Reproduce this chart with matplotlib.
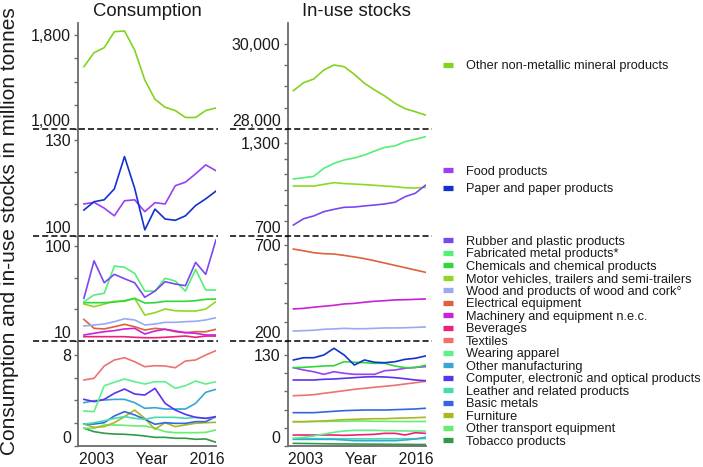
import matplotlib
matplotlib.use("Agg")
import matplotlib.pyplot as plt
from matplotlib.lines import Line2D
from matplotlib.ticker import FixedLocator

plt.rcParams['font.family'] = ['Liberation Sans', 'DejaVu Sans']

# ---------------- data ----------------
years = [2003, 2004, 2005, 2006, 2007, 2008, 2009, 2010, 2011, 2012, 2013, 2014, 2015, 2016]

sectors = ["Other non-metallic mineral products", "Food products", "Paper and paper products",
           "Rubber and plastic products", "Fabricated metal products*", "Chemicals and chemical products",
           "Motor vehicles, trailers and semi-trailers", "Wood and products of wood and cork\u00b0",
           "Electrical equipment", "Machinery and equipment n.e.c.", "Beverages", "Textiles",
           "Wearing apparel", "Other manufacturing", "Computer, electronic and optical products",
           "Leather and related products", "Basic metals", "Furniture", "Other transport equipment",
           "Tobacco products"]
colors = ["#80d41f", "#9b3ff5", "#1232cf", "#7a48ee", "#55ee77", "#2fd83a", "#8ed822", "#9aaaf0",
          "#dd6238", "#c823d8", "#ec2277", "#ee7171", "#5ef08a", "#35a8d2", "#5a33ee", "#45dcb0",
          "#3566e0", "#a9b822", "#66ee6e", "#2f9a48"]

# consumption (million tonnes)
cons_nonmetallic = [1530, 1649, 1692, 1828, 1834, 1672, 1417, 1253, 1185, 1157, 1098, 1098, 1157, 1179]
cons_food = [110.0, 110.5, 108.7, 106.3, 111.0, 111.3, 107.6, 110.4, 110.0, 115.7, 116.8, 119.4, 122.2, 120.4]
cons_paper = [108.1, 110.7, 111.3, 114.7, 124.8, 114.9, 101.9, 108.4, 105.3, 104.9, 106.3, 109.5, 111.6, 114.0]
cons_rubber = [50.4, 86.0, 65.2, 73.2, 69.0, 65.2, 51.4, 57.3, 66.2, 64.0, 62.4, 84.5, 73.2, 105.6]
cons_fabricated = [47.2, 53.6, 55.2, 81.0, 79.8, 74.1, 57.3, 57.3, 69.4, 66.8, 57.3, 77.9, 58.3, 58.3]
cons_chemicals = [46.3, 46.3, 46.3, 46.9, 48.2, 50.4, 46.0, 46.3, 47.6, 47.6, 47.6, 48.2, 49.5, 49.8]
cons_motor = [45.0, 42.5, 45.0, 47.6, 47.6, 50.4, 34.6, 36.8, 40.3, 38.7, 38.4, 38.4, 40.3, 47.2]
cons_wood = [24.2, 25.2, 26.1, 28.3, 31.1, 29.9, 25.2, 26.1, 27.7, 27.7, 28.3, 28.7, 29.9, 32.1]
cons_electrical = [30.5, 22.0, 21.4, 23.5, 25.8, 23.5, 20.4, 22.0, 21.1, 18.8, 17.9, 18.8, 18.8, 21.1]
cons_machinery = [15.7, 17.3, 18.8, 19.8, 21.4, 22.0, 16.6, 19.5, 21.1, 19.5, 17.9, 17.3, 15.7, 15.7]
cons_beverages = [14.1, 14.1, 14.1, 14.1, 14.1, 13.5, 13.1, 13.1, 13.5, 14.1, 14.7, 13.5, 14.7, 14.7]
cons_textiles = [5.80, 5.95, 7.03, 7.56, 7.76, 7.41, 6.97, 7.06, 7.03, 6.88, 7.47, 7.56, 8.00, 8.38]
cons_apparel = [3.08, 3.02, 5.30, 5.60, 5.89, 5.65, 5.45, 5.65, 5.65, 5.07, 5.30, 5.71, 5.45, 5.65]
cons_othermfg = [3.81, 3.98, 4.04, 4.10, 4.10, 3.81, 3.31, 3.37, 3.25, 3.25, 3.25, 3.75, 4.72, 4.98]
cons_computer = [4.10, 3.90, 4.10, 4.63, 5.01, 4.57, 4.48, 5.07, 3.75, 3.16, 2.78, 2.52, 2.43, 2.58]
cons_leather = [1.91, 2.05, 2.22, 2.43, 2.58, 2.43, 2.35, 2.52, 2.52, 2.52, 2.43, 2.52, 2.43, 2.52]
cons_basicmetals = [1.93, 1.93, 2.05, 2.64, 3.02, 2.73, 2.35, 1.91, 2.05, 1.99, 1.99, 2.14, 2.14, 2.58]
cons_furniture = [1.93, 1.64, 1.70, 2.05, 2.58, 3.16, 2.43, 1.47, 2.05, 1.70, 1.85, 2.00, 2.05, 2.08]
cons_othertransport = [1.56, 1.56, 1.85, 1.85, 1.82, 1.76, 1.76, 1.56, 1.26, 1.17, 1.17, 1.17, 1.20, 1.41]
cons_tobacco = [1.56, 1.26, 1.12, 1.05, 1.03, 0.97, 0.88, 0.76, 0.76, 0.68, 0.68, 0.59, 0.62, 0.33]

# in-use stocks (million tonnes)
stock_nonmetallic = [28901, 29089, 29176, 29388, 29506, 29466, 29287, 29075, 28918, 28776, 28605, 28478, 28407, 28329]
stock_fabricated = [1070, 1078, 1087, 1139, 1171, 1193, 1206, 1225, 1251, 1275, 1284, 1312, 1327, 1344]
stock_motor = [1024, 1024, 1024, 1035, 1046, 1040, 1037, 1033, 1029, 1024, 1020, 1013, 1011, 1016]
stock_rubber = [771, 812, 830, 858, 873, 886, 888, 895, 901, 908, 919, 955, 977, 1029]
stock_electrical = [679, 670, 660, 655, 653, 646, 638, 629, 618, 606, 594, 582, 570, 558]
stock_machinery = [367, 370, 376, 381, 386, 393, 396, 402, 407, 410, 414, 415, 417, 419]
stock_wood = [252, 254, 256, 261, 263, 266, 264, 264, 266, 268, 268, 269, 271, 273]
stock_paper = [122.9, 126.1, 126.1, 130.0, 139.6, 130.0, 115.7, 122.9, 119.6, 119.0, 120.4, 123.8, 125.3, 128.6]
stock_chemicals = [111.9, 112.4, 113.3, 114.3, 114.7, 120.4, 119.6, 119.0, 118.1, 118.1, 114.3, 111.9, 111.9, 115.3]
stock_food = [111.9, 108.6, 106.1, 102.4, 106.1, 103.9, 102.4, 102.4, 102.4, 107.6, 108.6, 111.0, 112.4, 113.3]
stock_computer = [94.3, 94.3, 94.3, 95.3, 95.7, 96.7, 97.6, 98.6, 99.0, 98.6, 97.6, 96.1, 94.3, 93.3]
stock_textiles = [71.9, 72.4, 73.3, 75.3, 77.1, 79.0, 81.0, 82.4, 83.9, 85.3, 86.7, 88.6, 90.4, 92.4]
stock_basicmetals = [47.6, 47.6, 47.6, 48.6, 49.6, 50.5, 51.0, 51.4, 51.4, 51.4, 51.9, 52.4, 52.9, 53.9]
stock_furniture = [34.7, 34.7, 35.3, 35.7, 36.7, 37.6, 38.1, 38.6, 39.0, 39.0, 39.6, 40.0, 40.4, 41.0]
stock_othertransport = [34.7, 34.7, 35.0, 35.0, 35.3, 35.3, 35.7, 35.7, 35.3, 35.3, 35.0, 35.0, 35.0, 35.0]
stock_apparel = [11.0, 12.4, 14.3, 17.1, 19.6, 21.4, 22.4, 22.4, 22.4, 21.9, 21.9, 21.4, 21.4, 21.4]
stock_beverages = [15.7, 15.7, 15.7, 15.7, 15.7, 15.2, 15.7, 16.2, 16.7, 18.1, 18.1, 15.7, 19.0, 18.1]
stock_othermfg = [9.5, 9.5, 9.5, 9.5, 9.5, 8.6, 7.6, 7.6, 7.6, 7.6, 7.6, 8.6, 10.0, 12.4]
stock_leather = [10.5, 10.5, 10.4, 10.4, 10.3, 10.3, 10.2, 10.2, 10.2, 10.3, 10.3, 10.4, 10.4, 10.5]
stock_tobacco = [3.8, 3.6, 3.4, 3.2, 3.0, 2.9, 2.8, 2.7, 2.6, 2.5, 2.4, 2.3, 2.2, 2.1]

# panel contents: (sector index, series)
panels = [
    [[(0, cons_nonmetallic)], [(0, stock_nonmetallic)]],
    [[(1, cons_food), (2, cons_paper)],
     [(4, stock_fabricated), (6, stock_motor), (3, stock_rubber)]],
    [[(8, cons_electrical), (10, cons_beverages), (9, cons_machinery), (7, cons_wood), (6, cons_motor),
      (5, cons_chemicals), (4, cons_fabricated), (3, cons_rubber)],
     [(8, stock_electrical), (9, stock_machinery), (7, stock_wood)]],
    [[(19, cons_tobacco), (18, cons_othertransport), (17, cons_furniture), (16, cons_basicmetals),
      (15, cons_leather), (13, cons_othermfg), (14, cons_computer), (12, cons_apparel), (11, cons_textiles)],
     [(19, stock_tobacco), (15, stock_leather), (13, stock_othermfg), (10, stock_beverages), (12, stock_apparel),
      (18, stock_othertransport), (17, stock_furniture), (16, stock_basicmetals), (11, stock_textiles),
      (14, stock_computer), (1, stock_food), (5, stock_chemicals), (2, stock_paper)]],
]

ylims = [[(1000, 1902), (28000, 30494)], [(100, 133.4), (700, 1394)],
         [(10, 109.5), (200, 747)], [(0, 9.23), (0, 150)]]
major_ticks = [[(1000, 1800), (28000, 30000)], [(100, 130), (700, 1300)],
               [(10, 100), (200, 700)], [(0, 8), (0, 130)]]
minor_ticks = [[(1200, 1400, 1600), (28500, 29000, 29500)], [(110, 120), (800, 900, 1000, 1100, 1200)],
               [(40, 70), (300, 400, 500, 600)], [(2, 4, 6), (26, 52, 78, 104)]]

legend_groups = [[0], [1, 2], list(range(3, 20))]

# ---------------- layout ----------------
W, H = 703, 467
fig = plt.figure(figsize=(W / 100, H / 100), dpi=100)


def fx(px):
    return px / W


def fy(py):
    return 1 - py / H


bounds = [23, 129, 236, 341, 446]
col_x = [78, 287.5]
ax_w = 138.4
spine_c = "#6b6b6b"
text_c = "#1a1a1a"

for r in range(4):
    for c in range(2):
        ax = fig.add_axes([fx(col_x[c]), fy(bounds[r + 1]), fx(ax_w), (bounds[r + 1] - bounds[r]) / H])
        for idx, series in panels[r][c]:
            ax.plot(years, series, color=colors[idx], lw=1.2, solid_joinstyle='round')
        ax.set_xlim(2002.42, 2016.05)
        ax.set_ylim(*ylims[r][c])
        ax.yaxis.set_major_locator(FixedLocator(major_ticks[r][c]))
        ax.yaxis.set_minor_locator(FixedLocator(minor_ticks[r][c]))
        ax.set_yticklabels([f"{v:,}" for v in major_ticks[r][c]])
        ax.tick_params(axis='y', which='both', direction='out', length=3, width=1,
                       color=spine_c, labelsize=11.5, labelcolor=text_c, pad=2)
        ax.yaxis.get_major_ticks()[0].label1.set_verticalalignment('bottom')
        ax.set_xticks([])
        for s in ['top', 'right']:
            ax.spines[s].set_visible(False)
        ax.spines['left'].set_color(spine_c)
        ax.spines['left'].set_linewidth(1.3)
        ax.patch.set_alpha(0)
        if r < 3:
            ax.spines['bottom'].set_visible(False)
        else:
            ax.spines['bottom'].set_color(spine_c)
            ax.spines['bottom'].set_linewidth(1.3)
            ax.set_xlabel(f"{years[0]}     Year     {years[-1]}", fontsize=11.3, color=text_c)
            ax.xaxis.set_label_coords(0.53, -0.055)
        if r == 0:
            ax.set_title(["Consumption", "In-use stocks"][c], fontsize=13.3, color=text_c, pad=5)

# dashed break lines
for y in bounds[1:4]:
    for x0, x1 in [(33, 218), (230, 432)]:
        fig.add_artist(Line2D([fx(x0), fx(x1)], [fy(y), fy(y)], color='black', lw=1.1,
                              ls=(0, (4, 2)), zorder=5))

fig.text(fx(10), fy(231), "Consumption and in-use stocks in million tonnes", rotation=90,
         ha='center', va='center', fontsize=15, color=text_c)

# legends
leg_y = [66, 180.5, 341.7]
leg_sp = [0.2, 0.46, 0.04]
for g, yc, sp in zip(legend_groups, leg_y, leg_sp):
    handles = [Line2D([], [], color=colors[i], lw=3.8, solid_capstyle='butt') for i in g]
    labels = [sectors[i] for i in g]
    fig.legend(handles, labels, loc='center left', bbox_to_anchor=(fx(443), fy(yc)), frameon=False,
               fontsize=9.2, handlelength=0.8, handletextpad=1.0, borderpad=0, borderaxespad=0,
               labelspacing=sp, labelcolor=text_c)

fig.savefig("out.png", dpi=100)
